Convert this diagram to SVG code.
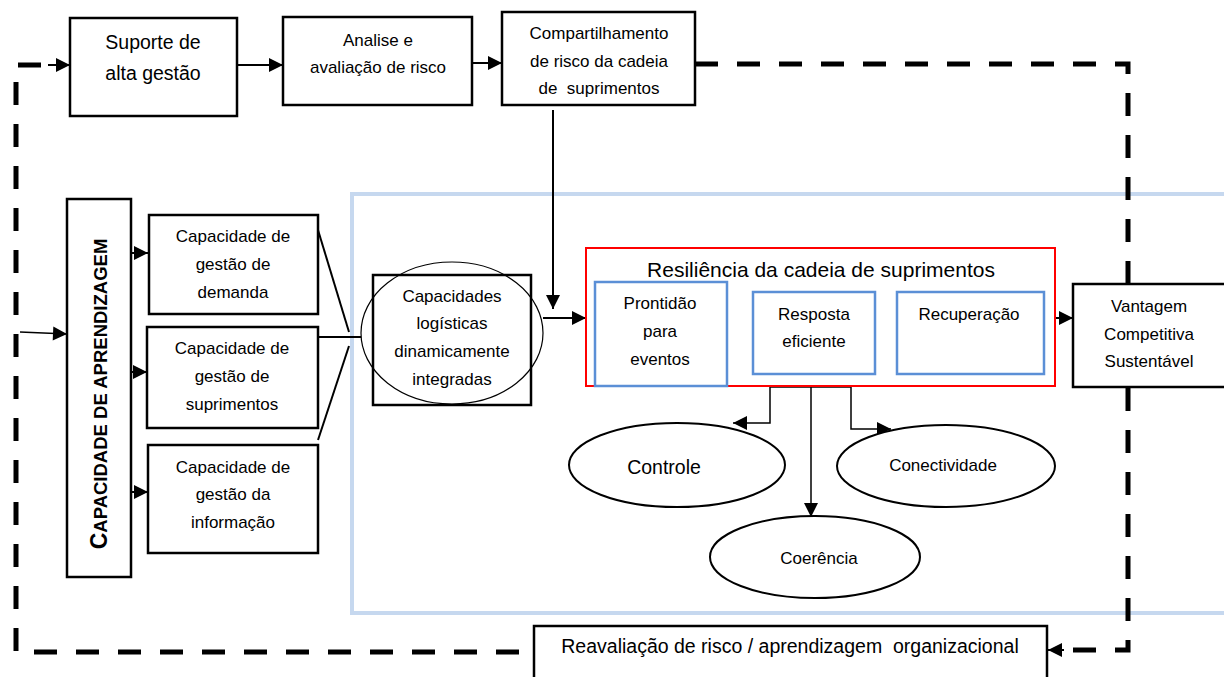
<svg xmlns="http://www.w3.org/2000/svg" width="1224" height="677" viewBox="0 0 1224 677">
<style>
  text { font-family: "Liberation Sans", Arial, sans-serif; fill: #000; text-anchor: middle; }
  .box { fill: #fff; stroke: #000; stroke-width: 2.5; }
  .thin { fill: none; stroke: #000; stroke-width: 1.5; }
  .conn { fill: none; stroke: #000; stroke-width: 2; }
  .dash { fill: none; stroke: #000; stroke-width: 5; stroke-dasharray: 23 19; }
  .ibox { fill: #fff; stroke: #5b8fd6; stroke-width: 2.5; }
  .ell { fill: #fff; stroke: #000; stroke-width: 2; }
  .t17 { font-size: 17px; }
  .t19 { font-size: 19.5px; }
</style>
<defs>
  <marker id="ah" markerUnits="userSpaceOnUse" markerWidth="16" markerHeight="16" viewBox="0 0 16 16" refX="15" refY="8" orient="auto">
    <path d="M1,1 L15,8 L1,15 Z" fill="#000"/>
  </marker>
</defs>
<rect width="1224" height="677" fill="#fff"/>

<!-- outer light blue frame -->
<g id="frame">
  <path d="M1226,194 L352,194 L352,613 L1226,613" fill="none" stroke="#c6d8ef" stroke-width="4"/>
</g>

<!-- connectors -->
<g id="connectors">
  <!-- dashed feedback loop -->
  <path class="dash" d="M695,64 L1128,64 L1128,284"/>
  <path class="dash" d="M1128,388 L1128,650 L1062,650"/>
  <path d="M1064,650 L1048,650" class="conn" stroke-width="5" marker-end="url(#ah)"/>
  <path class="dash" d="M519,652 L16,652 L16,65 L46,65"/>
  <path class="conn" d="M48,65 L70,65" stroke-width="5" marker-end="url(#ah)"/>
  <!-- top row -->
  <path class="conn" d="M237,65 L283,65" marker-end="url(#ah)"/>
  <path class="conn" d="M472,63 L502,63" marker-end="url(#ah)"/>
  <path class="conn" d="M553,110 L553,309" marker-end="url(#ah)"/>
  <!-- left -->
  <path class="thin" d="M20,332 L67,334" marker-end="url(#ah)"/>
  <path class="conn" d="M131,253 L148,253" marker-end="url(#ah)"/>
  <path class="conn" d="M131,372 L147,372" marker-end="url(#ah)"/>
  <path class="conn" d="M131,492 L148,492" marker-end="url(#ah)"/>
  <path class="conn" d="M318,230 L349,332"/>
  <path class="conn" d="M318,337 L361,337"/>
  <path class="conn" d="M318,440 L349,346"/>
  <!-- to resilience -->
  <path class="conn" d="M543,318 L586,318" marker-end="url(#ah)"/>
  <path class="conn" d="M727,316 L753,316" marker-end="url(#ah)"/>
  <path class="conn" d="M875,316 L897,316" marker-end="url(#ah)"/>
  <path class="conn" d="M1055,318 L1073,318" marker-end="url(#ah)"/>
  <!-- below resilience -->
  <path class="thin" d="M770,387 L851,387"/>
  <path class="thin" d="M770,387 L770,423 L733,423" stroke-width="2" marker-end="url(#ah)"/>
  <path class="thin" d="M811,387 L811,517" marker-end="url(#ah)"/>
  <path class="thin" d="M851,387 L851,429 L891,429" marker-end="url(#ah)"/>
</g>

<g id="suporte">
  <rect class="box" x="70" y="18" width="167" height="98"/>
  <text class="t19" x="153" y="49">Suporte de</text>
  <text class="t19" x="153" y="80">alta gestão</text>
</g>
<g id="analise">
  <rect class="box" x="283" y="17" width="189" height="88"/>
  <text class="t17" x="378" y="46">Analise e</text>
  <text class="t17" x="378" y="73">avaliação de risco</text>
</g>
<g id="compartilhamento">
  <rect class="box" x="502" y="12" width="193" height="93"/>
  <text class="t17" x="599" y="39">Compartilhamento</text>
  <text class="t17" x="599" y="67">de risco da cadeia</text>
  <text class="t17" x="599" y="94" xml:space="preserve">de  suprimentos</text>
</g>

<g id="aprendizagem">
  <rect class="box" x="67" y="199" width="64" height="378"/>
  <text transform="translate(107,394) rotate(-90)" x="0" y="0" font-weight="bold" font-size="18.5"><tspan font-size="23">C</tspan>APACIDADE DE APRENDIZAGEM</text>
</g>

<g id="demanda">
  <rect class="box" x="149" y="215" width="169" height="99"/>
  <text class="t17" x="233" y="242">Capacidade de</text>
  <text class="t17" x="233" y="270">gestão de</text>
  <text class="t17" x="233" y="298">demanda</text>
</g>
<g id="suprimentos">
  <rect class="box" x="147" y="327" width="171" height="101"/>
  <text class="t17" x="232" y="354">Capacidade de</text>
  <text class="t17" x="232" y="382">gestão de</text>
  <text class="t17" x="232" y="410">suprimentos</text>
</g>
<g id="informacao">
  <rect class="box" x="148" y="445" width="170" height="108"/>
  <text class="t17" x="233" y="473">Capacidade de</text>
  <text class="t17" x="233" y="500">gestão da</text>
  <text class="t17" x="233" y="528">informação</text>
</g>

<g id="logisticas">
  <rect class="box" x="373" y="275" width="158" height="130"/>
  <ellipse cx="452" cy="333" rx="91" ry="71" fill="none" stroke="#000" stroke-width="1.2"/>
  <text class="t17" x="452" y="302">Capacidades</text>
  <text class="t17" x="452" y="329">logísticas</text>
  <text class="t17" x="452" y="357">dinamicamente</text>
  <text class="t17" x="452" y="385">integradas</text>
</g>

<g id="resiliencia">
  <rect x="586" y="248" width="469" height="138" fill="#fff" stroke="#ff0000" stroke-width="2"/>
  <text x="821" y="277" font-size="21">Resiliência da cadeia de suprimentos</text>
</g>
<g id="prontidao">
  <rect class="ibox" x="595" y="282" width="132" height="104"/>
  <text class="t17" x="660" y="309">Prontidão</text>
  <text class="t17" x="660" y="337">para</text>
  <text class="t17" x="660" y="365">eventos</text>
</g>
<g id="resposta">
  <rect class="ibox" x="753" y="292" width="122" height="82"/>
  <text class="t17" x="814" y="320">Resposta</text>
  <text class="t17" x="814" y="347">eficiente</text>
</g>
<g id="recuperacao">
  <rect class="ibox" x="897" y="292" width="147" height="82"/>
  <text class="t17" x="969" y="320">Recuperação</text>
</g>

<g id="vantagem">
  <rect class="box" x="1073" y="284" width="160" height="103"/>
  <text class="t17" x="1149" y="312">Vantagem</text>
  <text class="t17" x="1149" y="340">Competitiva</text>
  <text class="t17" x="1149" y="367">Sustentável</text>
</g>

<g id="controle">
  <ellipse class="ell" cx="677" cy="465" rx="108" ry="42"/>
  <text class="t19" x="664" y="474">Controle</text>
</g>
<g id="conectividade">
  <ellipse class="ell" cx="946" cy="466" rx="109" ry="41"/>
  <text class="t17" x="943" y="471">Conectividade</text>
</g>
<g id="coerencia">
  <ellipse class="ell" cx="815" cy="557" rx="105" ry="41"/>
  <text class="t17" x="819" y="564">Coerência</text>
</g>

<g id="reavaliacao">
  <rect class="box" x="534" y="626" width="513" height="60"/>
  <text x="790" y="653" font-size="19.5" xml:space="preserve">Reavaliação de risco / aprendizagem  organizacional</text>
</g>
</svg>
